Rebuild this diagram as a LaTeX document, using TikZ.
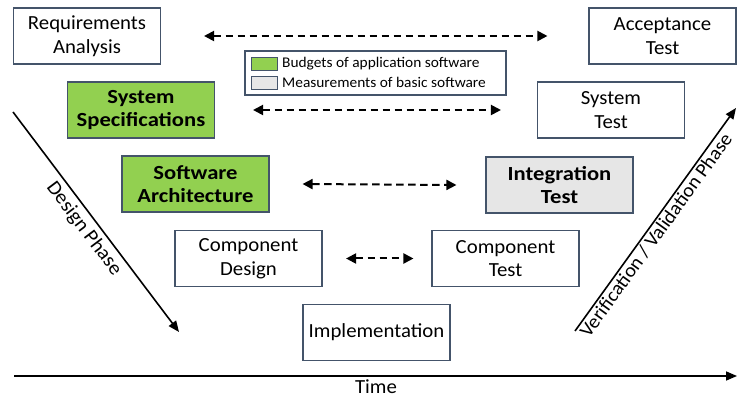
\documentclass[tikz,border=0pt]{standalone}
\usepackage{fontspec}
\setmainfont{Carlito}[FakeStretch=1.04]
\newfontfamily\boxbold{Carlito Bold}[FakeStretch=1.13]
\usetikzlibrary{arrows.meta}
\definecolor{boxline}{RGB}{68,84,106}
\definecolor{specgreen}{RGB}{146,208,80}
\definecolor{measgray}{RGB}{230,230,230}
\tikzset{
  vbox/.style={draw=boxline, line width=1.1pt, fill=white, minimum width=147pt, minimum height=56pt, inner sep=0pt, align=center, font=\fontsize{20}{23.5}\selectfont},
  greenbox/.style={vbox, fill=specgreen, font=\fontsize{20}{23.5}\boxbold},
  graybox/.style={vbox, fill=measgray, font=\fontsize{20}{23.5}\boxbold},
  swatch/.style={draw=boxline, line width=0.9pt, minimum width=26pt, minimum height=13pt, inner sep=0pt},
  legtext/.style={anchor=west, inner sep=0pt, font=\fontsize{14.8}{16}\selectfont},
  dasharrow/.style={line width=2pt, dash pattern=on 7.5pt off 4.5pt, {Triangle[length=10pt,width=10pt]}-{Triangle[length=10pt,width=10pt]}},
  phasearrow/.style={line width=1.6pt, -{Triangle[length=11pt,width=9pt]}},
  phaselabel/.style={font=\fontsize{20}{22}\selectfont, inner sep=0pt}
}
\begin{document}
\begin{tikzpicture}[x=1pt,y=-1pt]
\useasboundingbox (0,0) rectangle (737,398);
% V boxes
\node[vbox] (req) at (87,36) {Requirements\\Analysis};
\node[greenbox] (sysspec) at (141,110) {System\\Specifications};
\node[greenbox] (swarch) at (195.5,184) {Software\\Architecture};
\node[vbox] (compdes) at (248.5,258.5) {Component\\Design};
\node[vbox] (impl) at (376.5,332.5) {Implementation};
\node[vbox] (comptest) at (505.5,258.5) {Component\\Test};
\node[graybox] (integ) at (559.5,185) {Integration\\Test};
\node[vbox] (systest) at (611,110) {System\\Test};
\node[vbox] (accept) at (662.5,36) {Acceptance\\Test};
% legend
\node[draw=boxline, line width=1.1pt, fill=white, minimum width=261pt, minimum height=44pt, inner sep=0pt] (legend) at (375.5,73) {};
\node[swatch, fill=specgreen] (sw1) at (264,63.5) {};
\node[swatch, fill=measgray] (sw2) at (264,82.5) {};
\node[legtext] (lt1) at (282,63.5) {Budgets of application software};
\node[legtext] (lt2) at (282,82.5) {Measurements of basic software};
% dashed correspondences
\draw[dasharrow] ([xshift=43pt]req.east) -- ([xshift=-41pt]accept.west);
\draw[dasharrow] ([xshift=38pt]sysspec.east) -- ([xshift=-36pt]systest.west);
\draw[dasharrow] ([xshift=33pt]swarch.east) -- ([xshift=-29pt]integ.west);
\draw[dasharrow] ([xshift=23.5pt]compdes.east) -- ([xshift=-18pt]comptest.west);
% phase arrows
\coordinate (ds) at (13,112);
\coordinate (de) at (179,332);
\coordinate (vs) at (575,331);
\coordinate (ve) at (736,108);
\coordinate (ts) at (14,376);
\coordinate (te) at (737,376);
\draw[phasearrow] (ds) -- (de);
\draw[phasearrow] (vs) -- (ve);
\draw[phasearrow] (ts) -- (te);
\node[phaselabel, rotate=-53] (dlabel) at (84,229) {Design Phase};
\node[phaselabel, rotate=54.2, font=\fontsize{19.5}{22}\selectfont] (vlabel) at (656,235) {Verification / Validation Phase};
\node[phaselabel] (tlabel) at (376,387) {Time};
\end{tikzpicture}
\end{document}
